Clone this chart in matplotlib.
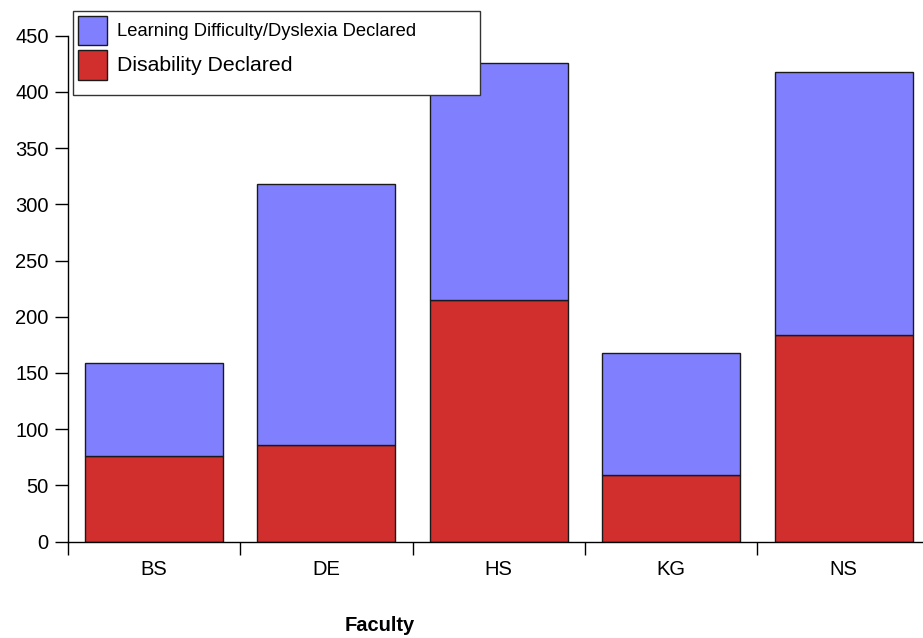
import matplotlib
matplotlib.use("Agg")
import matplotlib.pyplot as plt
from matplotlib.patches import Rectangle
import numpy as np

plt.rcParams['font.family'] = ['Liberation Sans', 'DejaVu Sans']

categories = ["BS", "DE", "HS", "KG", "NS"]
disability = [76, 86, 215, 59, 184]
totals = [159, 318, 426, 168, 418]
learning = [t - d for t, d in zip(totals, disability)]
yticks = [0, 50, 100, 150, 200, 250, 300, 350, 400, 450]

W, H = 923, 638
fig = plt.figure(figsize=(W / 100, H / 100), dpi=100)
ax = fig.add_axes([67.7 / W, 96.5 / H, (W - 67.7) / W, (541.5 - 35.7) / H])

x = np.arange(len(categories))
red = '#D12E2E'
blue = '#8080FF'
edge = '#1a1a1a'
b_red = ax.bar(x, disability, width=0.8, color=red, edgecolor=edge, linewidth=1.0,
               label='Disability Declared', zorder=2)
b_blue = ax.bar(x, learning, width=0.8, bottom=disability, color=blue, edgecolor=edge,
                linewidth=1.0, label='Learning Difficulty/Dyslexia Declared', zorder=2)

ax.set_yticks(yticks)
ax.set_yticklabels([str(v) for v in yticks], fontsize=14.5)

ax.set_xticks(np.arange(len(categories)) - 0.5)
ax.set_xticklabels([])
ax.set_xticks(x, minor=True)
ax.set_xticklabels(categories, minor=True, fontsize=14.5)
ax.tick_params(axis='x', which='major', length=9.7, width=1.0, direction='out')
ax.tick_params(axis='x', which='minor', length=0, pad=13.3)
ax.tick_params(axis='y', which='major', length=9.7, width=1.0, direction='out', pad=4.1)

ax.set_xlim(-0.5, 4.46)
ax.set_ylim(0, 450)

for s in ['top', 'right']:
    ax.spines[s].set_visible(False)
for s in ['left', 'bottom']:
    ax.spines[s].set_linewidth(1.0)
    ax.spines[s].set_color('black')

fig.text(380 / W, 1 - 631 / H, 'Faculty', ha='center', va='baseline',
         fontsize=14.5, fontweight='bold')

# legend frame
frame = Rectangle((72.7 / W, 1 - 95 / H), (480 - 72.7) / W, (95 - 10.7) / H,
                  transform=fig.transFigure, facecolor='white', edgecolor='#333333',
                  linewidth=1.0, clip_on=False, zorder=4)
ax.add_artist(frame)

leg = ax.legend(handles=[b_blue, b_red],
                labels=['Learning Difficulty/Dyslexia Declared', 'Disability Declared'],
                loc='upper left', bbox_to_anchor=(77.7 / W, 1 - 16 / H),
                bbox_transform=fig.transFigure, frameon=False, fontsize=13.2,
                borderpad=0, borderaxespad=0, handlelength=1.58, handleheight=2.09,
                labelspacing=0.27, handletextpad=0.57)
leg.set_zorder(5)
leg.get_texts()[1].set_fontsize(15.3)

fig.savefig('out.png', dpi=100)
